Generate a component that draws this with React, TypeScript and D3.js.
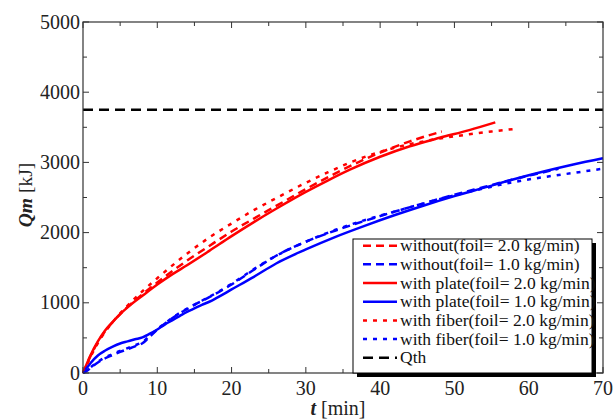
import React from "react";
import * as d3 from "d3";

const W = 613, H = 420;
const M = { left: 83, right: 603, top: 22, bottom: 373 };

const xTicks = [0, 10, 20, 30, 40, 50, 60, 70];
const yTicks = [0, 1000, 2000, 3000, 4000, 5000];
const qth = 3750;

const withoutHiT = [0, 0.5, 1, 2, 3, 4, 5, 6, 8, 10, 12, 14, 17, 20, 23, 26, 30, 33, 36, 40, 44, 48.3];
const withoutHiV = [0, 120, 240, 440, 600, 725, 840, 940, 1120, 1290, 1450, 1600, 1810, 2015, 2200, 2380, 2620, 2790, 2950, 3140, 3300, 3440];

const withoutLoT = [0, 0.5, 1, 2, 3, 4, 5, 6, 7, 8, 9, 10, 11, 12, 13, 14, 15, 17, 20, 23, 26, 30, 34, 38, 42, 46, 50, 54, 58, 62, 64];
const withoutLoV = [0, 30, 70, 150, 210, 256, 300, 340, 380, 423, 520, 620, 700, 780, 850, 910, 970, 1080, 1260, 1470, 1670, 1870, 2030, 2170, 2300, 2420, 2540, 2650, 2760, 2860, 2910];

const plateHiT = [0, 0.5, 1, 2, 3, 4, 5, 6, 8, 10, 12, 14, 17, 20, 23, 26, 30, 33, 36, 40, 44, 48, 52, 55.5];
const plateHiV = [0, 130, 250, 450, 610, 730, 840, 935, 1100, 1260, 1405, 1535, 1740, 1950, 2150, 2340, 2580, 2745, 2900, 3080, 3230, 3350, 3460, 3570];

const plateLoT = [0, 0.5, 1, 2, 3, 4, 5, 6, 7, 8, 9, 10, 11, 12, 13, 14, 15, 16, 17, 18, 20, 23, 26, 30, 34, 38, 42, 46, 50, 54, 58, 62, 66, 70];
const plateLoV = [0, 70, 140, 250, 320, 375, 420, 450, 480, 508, 560, 620, 690, 750, 810, 870, 920, 970, 1015, 1070, 1190, 1370, 1560, 1760, 1940, 2100, 2250, 2390, 2520, 2640, 2760, 2870, 2970, 3060];

const fiberHiT = [0, 0.5, 1, 2, 3, 4, 5, 6, 8, 10, 12, 14, 17, 20, 23, 26, 30, 33, 36, 40, 44, 48, 52, 55, 58.4];
const fiberHiV = [0, 110, 225, 425, 590, 725, 850, 960, 1165, 1350, 1530, 1700, 1930, 2130, 2320, 2490, 2710, 2860, 3000, 3150, 3260, 3340, 3400, 3440, 3480];

const fiberLoT = [0, 0.5, 1, 2, 3, 4, 5, 6, 7, 8, 9, 10, 11, 12, 13, 15, 17, 20, 23, 26, 30, 34, 38, 42, 46, 50, 54, 58, 62, 66, 70];
const fiberLoV = [0, 35, 80, 160, 225, 270, 315, 355, 395, 440, 530, 625, 705, 785, 855, 975, 1085, 1270, 1480, 1670, 1870, 2040, 2180, 2300, 2420, 2530, 2630, 2720, 2790, 2850, 2910];

const seriesNames = [
  "without(foil= 2.0 kg/min)",
  "without(foil= 1.0 kg/min)",
  "with plate(foil= 2.0 kg/min)",
  "with plate(foil= 1.0 kg/min)",
  "with fiber(foil= 2.0 kg/min)",
  "with fiber(foil= 1.0 kg/min)",
  "Qth",
];

const RED = "#ff0000", BLUE = "#0000ff";
const DASH = "8,5", DOT = "4,6", QDASH = "10,6";

const series = [
  { t: withoutHiT, v: withoutHiV, color: RED, dash: DASH },
  { t: withoutLoT, v: withoutLoV, color: BLUE, dash: DASH },
  { t: plateHiT, v: plateHiV, color: RED, dash: "" },
  { t: plateLoT, v: plateLoV, color: BLUE, dash: "" },
  { t: fiberHiT, v: fiberHiV, color: RED, dash: DOT },
  { t: fiberLoT, v: fiberLoV, color: BLUE, dash: DOT },
];

const FF = "Liberation Serif";
const FONT = { fontFamily: FF };

export default function App() {
  const x = d3.scaleLinear().domain([0, 70]).range([M.left, M.right]);
  const y = d3.scaleLinear().domain([0, 5000]).range([M.bottom, M.top]);
  const line = d3
    .line<[number, number]>()
    .x((d) => x(d[0]))
    .y((d) => y(d[1]))
    .curve(d3.curveMonotoneX);

  const xMinor = d3.range(0, 70.01, 5);
  const yMinor = d3.range(0, 5000.01, 500);

  const legendX = 353, legendY = 239, legendW = 239, legendH = 134;
  const rowH = 18.67;

  return (
    <svg width={W} height={H} style={{ position: "absolute", left: 0, top: 0, background: "#fff" }}>
      <rect x={0} y={0} width={W} height={H} fill="#fff" />
      <g stroke="#333" strokeWidth={1}>
        {xMinor.map((t) => {
          const len = t % 10 === 0 ? 6 : 4;
          return (
            <g key={"xt" + t}>
              <line x1={x(t)} x2={x(t)} y1={M.bottom} y2={M.bottom - len} />
              <line x1={x(t)} x2={x(t)} y1={M.top} y2={M.top + len} />
            </g>
          );
        })}
        {yMinor.map((v) => {
          const len = v % 1000 === 0 ? 6 : 4;
          return (
            <g key={"yt" + v}>
              <line x1={M.left} x2={M.left + len} y1={y(v)} y2={y(v)} />
              <line x1={M.right} x2={M.right - len} y1={y(v)} y2={y(v)} />
            </g>
          );
        })}
      </g>
      <line
        x1={M.left}
        x2={M.right}
        y1={y(qth)}
        y2={y(qth)}
        stroke="#000"
        strokeWidth={2.5}
        strokeDasharray={QDASH}
      />
      {series.map((s, i) => (
        <path
          key={i}
          d={line(s.t.map((t, j) => [t, s.v[j]] as [number, number])) || ""}
          fill="none"
          stroke={s.color}
          strokeWidth={2.5}
          strokeDasharray={s.dash || undefined}
        />
      ))}
      <rect
        x={M.left}
        y={M.top}
        width={M.right - M.left}
        height={M.bottom - M.top}
        fill="none"
        stroke="#333"
        strokeWidth={1.2}
      />
      {xTicks.map((t) => (
        <text key={"xl" + t} x={x(t)} y={395} textAnchor="middle" fontSize={20} fill="#222" style={FONT}>
          {t}
        </text>
      ))}
      {yTicks.map((v) => (
        <text key={"yl" + v} x={80} y={y(v) + 6.5} textAnchor="end" fontSize={20} fill="#222" style={FONT}>
          {v}
        </text>
      ))}
      <text x={338} y={415} textAnchor="middle" fontSize={20} fill="#222" style={FONT}>
        <tspan fontWeight="bold" fontStyle="italic">t</tspan>
        <tspan> [min]</tspan>
      </text>
      <text
        transform={`translate(32,195) rotate(-90)`}
        textAnchor="middle"
        fontSize={19.5}
        fill="#222"
        style={FONT}
      >
        <tspan fontWeight="bold" fontStyle="italic">Qm</tspan>
        <tspan> [kJ]</tspan>
      </text>
      <rect x={legendX + 4} y={legendY + 4} width={legendW} height={legendH} fill="#000" />
      <rect x={legendX} y={legendY} width={legendW} height={legendH} fill="#fff" stroke="#000" strokeWidth={1} />
      {seriesNames.map((name, i) => {
        const cy = 245.7 + i * rowH;
        const s = series[i];
        const color = s ? s.color : "#000";
        const dash = s ? s.dash : QDASH;
        return (
          <g key={"lg" + i}>
            <line
              x1={363}
              x2={397}
              y1={cy}
              y2={cy}
              stroke={color}
              strokeWidth={2.5}
              strokeDasharray={dash || undefined}
            />
            <text x={400} y={cy + 5.5} fontSize={17.5} fill="#111" style={FONT}>
              {name}
            </text>
          </g>
        );
      })}
    </svg>
  );
}
